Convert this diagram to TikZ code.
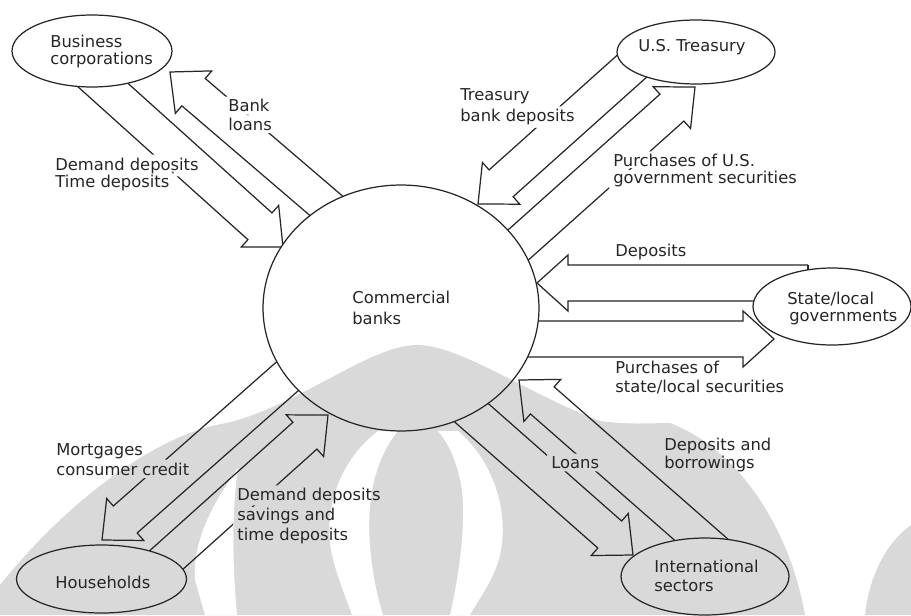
\documentclass[tikz,border=0pt]{standalone}
\usepackage{fontspec}
\setmainfont{DejaVu Sans}
\usetikzlibrary{calc,shapes.geometric}

\definecolor{ink}{HTML}{262626}
\definecolor{emblemgray}{HTML}{D9D9D9}

% Hollow block arrow from #2 (tail) to #3 (tip); #1 stretches the tail
% back into the source shape so that the clip trims it at the border.
\newcommand\flowarrow[3][1.25]{%
  \coordinate (fa-tail) at ($(#3)!#1!(#2)$);
  \coordinate (fa-base) at ($(#3)!0.62cm!(#2)$);
  \draw[flowline]
    ($(fa-tail)!0.36cm!90:(#3)$) -- ($(fa-base)!0.36cm!90:(#3)$) --
    ($(fa-base)!0.56cm!90:(#3)$) -- (#3) --
    ($(fa-base)!0.56cm!-90:(#3)$) -- ($(fa-base)!0.36cm!-90:(#3)$) --
    ($(fa-tail)!0.36cm!-90:(#3)$);
}

\tikzset{
  flowline/.style={draw=ink, line width=0.7pt, line join=miter},
  outline/.style={ellipse, draw=ink, line width=0.7pt, inner sep=0pt},
  txt/.style={anchor=base west, inner sep=0pt, text=ink,
    font=\fontsize{9.3pt}{11pt}\selectfont},
  emblem/.style={fill=emblemgray},
  gap/.style={fill=white},
}

\begin{document}
\begin{tikzpicture}[x=0.02cm, y=-0.02cm]
\fill[white] (0,0) rectangle (911,615);
\path[use as bounding box] (0,0) rectangle (911,615);

% faint emblem behind the lower half
\path[emblem] (0,615) -- (0,585) .. controls (60,510) and (150,435) .. (227,423)
  .. controls (300,405) and (370,345) .. (417,345)
  .. controls (460,345) and (530,395) .. (600,421)
  .. controls (630,425) and (650,423) .. (670,423)
  .. controls (740,450) and (790,530) .. (805,615) -- cycle;
\path[emblem] (865,615) .. controls (870,570) and (890,540) .. (911,525) -- (911,615) -- cycle;
% light crescents cut into it
\path[gap] (238,468) .. controls (215,500) and (192,540) .. (195,580) -- (205,615) -- (237,615)
  .. controls (232,560) and (232,510) .. (238,468) -- cycle;
\path[gap] (378,431) .. controls (340,460) and (322,510) .. (332,555)
  .. controls (338,580) and (347,600) .. (352,615) -- (383,615)
  .. controls (372,580) and (365,530) .. (372,490)
  .. controls (377,465) and (386,445) .. (398,431) -- cycle;
\path[gap] (458,431) .. controls (492,460) and (510,510) .. (500,555)
  .. controls (494,580) and (478,600) .. (470,615) -- (450,615)
  .. controls (458,580) and (466,530) .. (462,490)
  .. controls (458,465) and (450,445) .. (438,431) -- cycle;

% sectors
\node[outline, minimum width=5.52cm, minimum height=4.92cm] (bank) at (401,308) {};
\node[outline, minimum width=3.2cm,  minimum height=1.44cm] (bc)   at (92,51) {};
\node[outline, minimum width=3.16cm, minimum height=1.28cm] (ut)   at (696,52) {};
\node[outline, minimum width=3.16cm, minimum height=1.54cm] (sl)   at (832,306.5) {};
\node[outline, minimum width=3.4cm,  minimum height=1.36cm] (hh)   at (101.5,579) {};
\node[outline, minimum width=3.36cm, minimum height=1.54cm] (is)   at (705,576.5) {};

\node[txt] (bkt1) at (352,303.5) {Commercial};
\node[txt] (bkt2) at (352,324) {banks};
\node[txt] (bct1) at (50,47.7) {Business};
\node[txt] (bct2) at (50,64.5) {corporations};
\node[txt] (utt1) at (638,51.7) {U.S. Treasury};
\node[txt] (slt1) at (787,304) {State/local};
\node[txt] (slt2) at (789,321.5) {governments};
\node[txt] (hht1) at (55,588.3) {Households};
\node[txt] (ist1) at (654,572.7) {International};
\node[txt] (ist2) at (654,591.7) {sectors};

% flow labels
\node[txt] (l1a) at (228,112) {Bank};
\node[txt] (l1b) at (228,130) {loans};
\node[txt] (l2a) at (55,170) {Demand deposits};
\node[txt] (l2b) at (55,187) {Time deposits};
\node[txt] (l3a) at (460,100) {Treasury};
\node[txt] (l3b) at (460,121.7) {bank deposits};
\node[txt] (l4a) at (613,166.7) {Purchases of U.S.};
\node[txt] (l4b) at (613,183.3) {government securities};
\node[txt] (l5)  at (615,256.7) {Deposits};
\node[txt] (l6a) at (615,373.3) {Purchases of};
\node[txt] (l6b) at (615,392.3) {state/local securities};
\node[txt] (l7a) at (56,455.7) {Mortgages};
\node[txt] (l7b) at (56,475) {consumer credit};
\node[txt] (l8a) at (237,500.7) {Demand deposits};
\node[txt] (l8b) at (237,520.7) {savings and};
\node[txt] (l8c) at (237,540.7) {time deposits};
\node[txt] (l9)  at (551,468.3) {Loans};
\node[txt] (l10a) at (664,450) {Deposits and};
\node[txt] (l10b) at (664,468.5) {borrowings};

% arrow ends
\coordinate (a1s) at ($(bc.center)+(12,35)$);
\coordinate (a1e) at ($(bank.center)+(-118,-61)$);
\coordinate (a2s) at ($(bank.center)+(-74.5,-102)$);
\coordinate (a2e) at ($(bc.center)+(78,21)$);
\coordinate (a3s) at ($(ut.center)+(-65,15)$);
\coordinate (a3e) at ($(bank.center)+(77,-104)$);
\coordinate (a4s) at ($(bank.center)+(115.5,-61.5)$);
\coordinate (a4e) at ($(ut.center)+(-1,35)$);
\coordinate (a5s) at ($(sl.center)+(-24,-23.5)$);
\coordinate (a5e) at ($(bank.center)+(136,-25)$);
\coordinate (a6s) at ($(bank.center)+(134,31)$);
\coordinate (a6e) at ($(sl.center)+(-58,32.5)$);
\coordinate (a7s) at ($(bank.center)+(-115,69.5)$);
\coordinate (a7e) at ($(hh.center)+(0.5,-39)$);
\coordinate (a8s) at ($(hh.center)+(67,-21)$);
\coordinate (a8e) at ($(bank.center)+(-73,107)$);
\coordinate (a9s) at ($(bank.center)+(73,107)$);
\coordinate (a9e) at ($(is.center)+(-72,-21.5)$);
\coordinate (a10s) at ($(is.center)+(-4.5,-37.5)$);
\coordinate (a10e) at ($(bank.center)+(118,72)$);

% flows: kept outside the sector outlines and clear of the labels
\begin{scope}
  \clip (0,0) -- (0,615) -- (911,615) -- (911,0) -- cycle
    (bank.center) ellipse (138 and 123)
    (bc.center) ellipse (80 and 36)
    (ut.center) ellipse (79 and 32)
    (sl.center) ellipse (79 and 38.5)
    (hh.center) ellipse (85 and 34)
    (is.center) ellipse (84 and 38.5)
    foreach \n in {l1a,l1b,l2a,l2b,l3a,l3b,l4a,l4b,l6a,l6b,l7a,l7b,l8a,l8b,l8c,l9,l10a,l10b} {
      ($(\n.north west)+(-4,-2.5)$) -- ($(\n.north east)+(4,-2.5)$) --
      ($(\n.south east)+(4,2.5)$) -- ($(\n.south west)+(-4,2.5)$) -- cycle
    };
  \flowarrow{a1s}{a1e}
  \flowarrow{a2s}{a2e}
  \flowarrow[1.1]{a3s}{a3e}
  \flowarrow{a4s}{a4e}
  \flowarrow[1]{a5s}{a5e}
  \draw[flowline] ($(a5s)!0.36cm!90:(a5e)$) -- ($(a5s)!0.36cm!-90:(a5e)$);
  \flowarrow{a6s}{a6e}
  \flowarrow{a7s}{a7e}
  \flowarrow{a8s}{a8e}
  \flowarrow{a9s}{a9e}
  \flowarrow{a10s}{a10e}
\end{scope}
\end{tikzpicture}
\end{document}
